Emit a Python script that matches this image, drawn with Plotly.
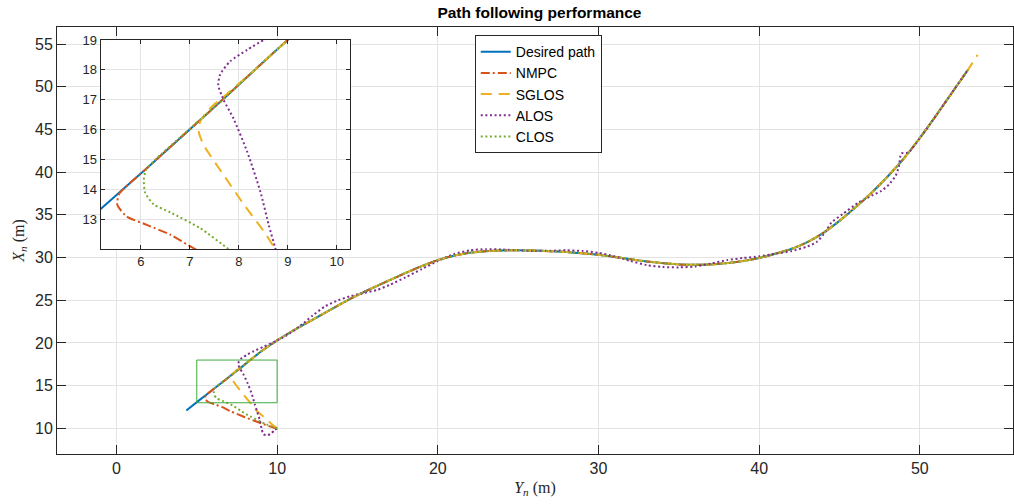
import plotly.graph_objects as go

# ---- Shared part of the route, from (9, 19) to the end (Y_n, X_n in metres) ----
route_yn = [9.0, 10.0, 11.0, 12.0, 13.0, 14.0, 15.0, 16.0, 17.0, 18.0, 19.0, 20.0, 21.0,
            22.0, 23.0, 24.0, 25.0, 26.0, 27.0, 28.0, 29.0, 30.0, 31.0, 32.0, 33.0, 34.0,
            35.0, 36.0, 37.0, 38.0, 39.0, 40.0, 41.0, 42.0, 43.0, 44.0, 45.0, 46.0, 47.0,
            48.0, 49.0, 50.0, 51.0, 52.0, 53.0]
route_xn = [19.0, 20.3, 21.45, 22.5, 23.55, 24.6, 25.6, 26.5, 27.35, 28.2, 29.0, 29.7, 30.22,
            30.56, 30.75, 30.83, 30.85, 30.82, 30.75, 30.65, 30.5, 30.32, 30.08, 29.8, 29.55,
            29.35, 29.2, 29.15, 29.2, 29.35, 29.6, 29.95, 30.45, 31.0, 31.8, 32.9, 34.3,
            35.9, 37.6, 39.5, 41.6, 44.0, 46.6, 49.3, 52.0]

# ---- Desired path: start of the straight leg, then the shared route ----
des_start_yn = [4.35, 5.18, 6.15, 7.6]
des_start_xn = [12.1, 13.34, 14.75, 16.9]

# ---- NMPC: approach from the initial position (10, 10) ----
nmpc_start_yn = [10.0, 9.0, 8.0, 7.11, 6.6, 6.12, 5.71, 5.52, 5.56, 6.15, 7.6]
nmpc_start_xn = [9.95, 10.6, 11.3, 12.0, 12.48, 12.81, 13.09, 13.48, 13.85, 14.75, 16.9]

# ---- SGLOS: approach, and a short overshoot past the last waypoint ----
sglos_start_yn = [10.0, 9.6, 9.2, 8.75, 8.55, 8.1, 7.68, 7.28, 7.18, 7.21, 7.35, 7.5, 7.62, 8.3]
sglos_start_xn = [10.0, 10.6, 11.3, 12.0, 12.5, 13.5, 14.5, 15.49, 15.94, 16.27, 16.6, 16.85,
                  17.0, 17.96]
sglos_end_yn = [53.6]
sglos_end_xn = [53.75]

# ---- ALOS (whole trajectory) ----
alos_yn = [10.0, 9.85, 9.65, 9.4, 9.15, 9.03, 8.92, 8.75, 8.61, 8.44, 8.17, 7.89, 7.69, 7.58,
           7.62, 7.82, 8.17, 8.54, 9.2, 9.9, 10.6, 11.4, 12.2, 13.0, 13.8, 14.6, 15.4, 16.2,
           17.0, 18.0, 19.0, 20.0, 21.0, 22.0, 23.0, 24.0, 25.0, 26.0, 27.0, 28.0, 29.0,
           30.0, 31.0, 32.0, 33.0, 34.0, 35.0, 36.0, 37.0, 38.0, 39.0, 40.0, 41.0, 42.0,
           43.0, 43.6, 44.1, 44.5, 45.2, 46.2, 47.0, 47.6, 48.1, 48.5, 48.7, 48.85, 49.3,
           50.0, 51.0, 52.0, 53.0]
alos_xn = [10.0, 9.8, 9.45, 9.2, 9.3, 10.0, 11.0, 12.0, 12.81, 13.92, 15.26, 16.37, 16.99,
           17.49, 17.85, 18.28, 18.67, 19.03, 19.6, 20.2, 20.9, 21.95, 23.2, 24.3, 25.0, 25.5,
           25.85, 26.2, 26.8, 27.7, 28.65, 29.6, 30.4, 30.85, 30.98, 30.95, 30.85, 30.78,
           30.8, 30.85, 30.78, 30.55, 30.15, 29.6, 29.12, 28.9, 28.85, 28.95, 29.3, 29.7,
           29.95, 30.15, 30.45, 30.75, 31.3, 31.85, 32.95, 34.1, 35.1, 36.45, 37.25, 37.8,
           38.6, 39.6, 40.7, 42.2, 42.3, 44.0, 46.6, 49.3, 52.0]

# ---- CLOS: approach from the initial position ----
clos_start_yn = [10.0, 9.33, 8.09, 7.79, 7.21, 6.6, 6.26, 6.09, 6.06, 6.11, 6.3, 7.6]
clos_start_xn = [10.0, 10.47, 11.64, 12.0, 12.7, 13.23, 13.5, 13.88, 14.33, 14.67, 15.0, 16.9]

# ---- axes settings ----
main_x_ticks = [0, 10, 20, 30, 40, 50]
main_y_ticks = [10, 15, 20, 25, 30, 35, 40, 45, 50, 55]
inset_x_ticks = [6, 7, 8, 9, 10]
inset_y_ticks = [13, 14, 15, 16, 17, 18, 19]
zoom_box = dict(x0=5, x1=10, y0=13, y1=18)

series = [
    ("Desired path", des_start_yn + route_yn, des_start_xn + route_xn, "#0072BD", "solid"),
    ("NMPC", nmpc_start_yn + route_yn, nmpc_start_xn + route_xn, "#D95319", "9px,3px,2px,3px"),
    ("SGLOS", sglos_start_yn + route_yn + sglos_end_yn,
     sglos_start_xn + route_xn + sglos_end_xn, "#EDB120", "11px,7px"),
    ("ALOS", alos_yn, alos_xn, "#7E2F8E", "2px,2.6px"),
    ("CLOS", clos_start_yn + route_yn, clos_start_xn + route_xn, "#77AC30", "2px,2.6px"),
]

fig = go.Figure()
for name, xs, ys, color, dash in series:
    line = dict(color=color, width=2, dash=dash, shape="spline", smoothing=0.6)
    fig.add_trace(go.Scatter(x=xs, y=ys, mode="lines", name=name, line=line,
                             xaxis="x", yaxis="y"))
for name, xs, ys, color, dash in series:
    line = dict(color=color, width=2, dash=dash, shape="spline", smoothing=0.6)
    fig.add_trace(go.Scatter(x=xs, y=ys, mode="lines", name=name, line=line,
                             xaxis="x2", yaxis="y2", showlegend=False))

axis_color = "#262626"
grid_color = "#e3e3e3"
sans = "Liberation Sans, Arial, sans-serif"
tick_font = dict(family=sans, size=16, color=axis_color)
inset_font = dict(family=sans, size=13, color=axis_color)
label_font = dict(family="Liberation Serif, Times New Roman, serif", size=16, color=axis_color)

fig.add_shape(type="rect", xref="x", yref="y", line=dict(color="#3FAA3F", width=1),
              **zoom_box)

fig.update_layout(
    width=1014, height=504,
    margin=dict(l=57, r=1, t=27, b=50),
    paper_bgcolor="white", plot_bgcolor="white",
    title=dict(text="<b>Path following performance</b>", x=0.532, xanchor="center",
               y=0.976, yanchor="middle",
               font=dict(family=sans, size=15.5, color="black")),
    showlegend=True,
    legend=dict(x=0.437, y=0.981, xanchor="left", yanchor="top",
                bgcolor="white", bordercolor=axis_color, borderwidth=1,
                font=dict(family=sans, size=14, color="black"),
                itemwidth=30, tracegroupgap=0),
    xaxis=dict(domain=[0, 1], range=[-3.7, 55.8], tickvals=main_x_ticks,
               ticks="inside", ticklen=9, tickcolor=axis_color, mirror="ticks",
               showline=True, linecolor=axis_color, linewidth=1,
               showgrid=True, gridcolor=grid_color, zeroline=False, tickfont=tick_font,
               title=dict(text="<i>Y<sub>n</sub></i> (m)", font=label_font, standoff=5)),
    yaxis=dict(domain=[0, 1], range=[7, 57], tickvals=main_y_ticks,
               ticks="inside", ticklen=9, tickcolor=axis_color, mirror="ticks",
               showline=True, linecolor=axis_color, linewidth=1,
               showgrid=True, gridcolor=grid_color, zeroline=False, tickfont=tick_font,
               title=dict(text="<i>X<sub>n</sub></i> (m)", font=label_font, standoff=6)),
    xaxis2=dict(domain=[0.0457, 0.3065], anchor="y2", range=[5.18, 10.27],
                tickvals=inset_x_ticks, ticks="inside", ticklen=4, tickcolor=axis_color,
                mirror="ticks", showline=True, linecolor=axis_color, linewidth=1,
                showgrid=True, gridcolor=grid_color, zeroline=False, tickfont=inset_font),
    yaxis2=dict(domain=[0.480, 0.9696], anchor="x2", range=[12, 19],
                tickvals=inset_y_ticks, ticks="inside", ticklen=4, tickcolor=axis_color,
                mirror="ticks", showline=True, linecolor=axis_color, linewidth=1,
                showgrid=True, gridcolor=grid_color, zeroline=False, tickfont=inset_font),
)

fig.write_html("out.html")
